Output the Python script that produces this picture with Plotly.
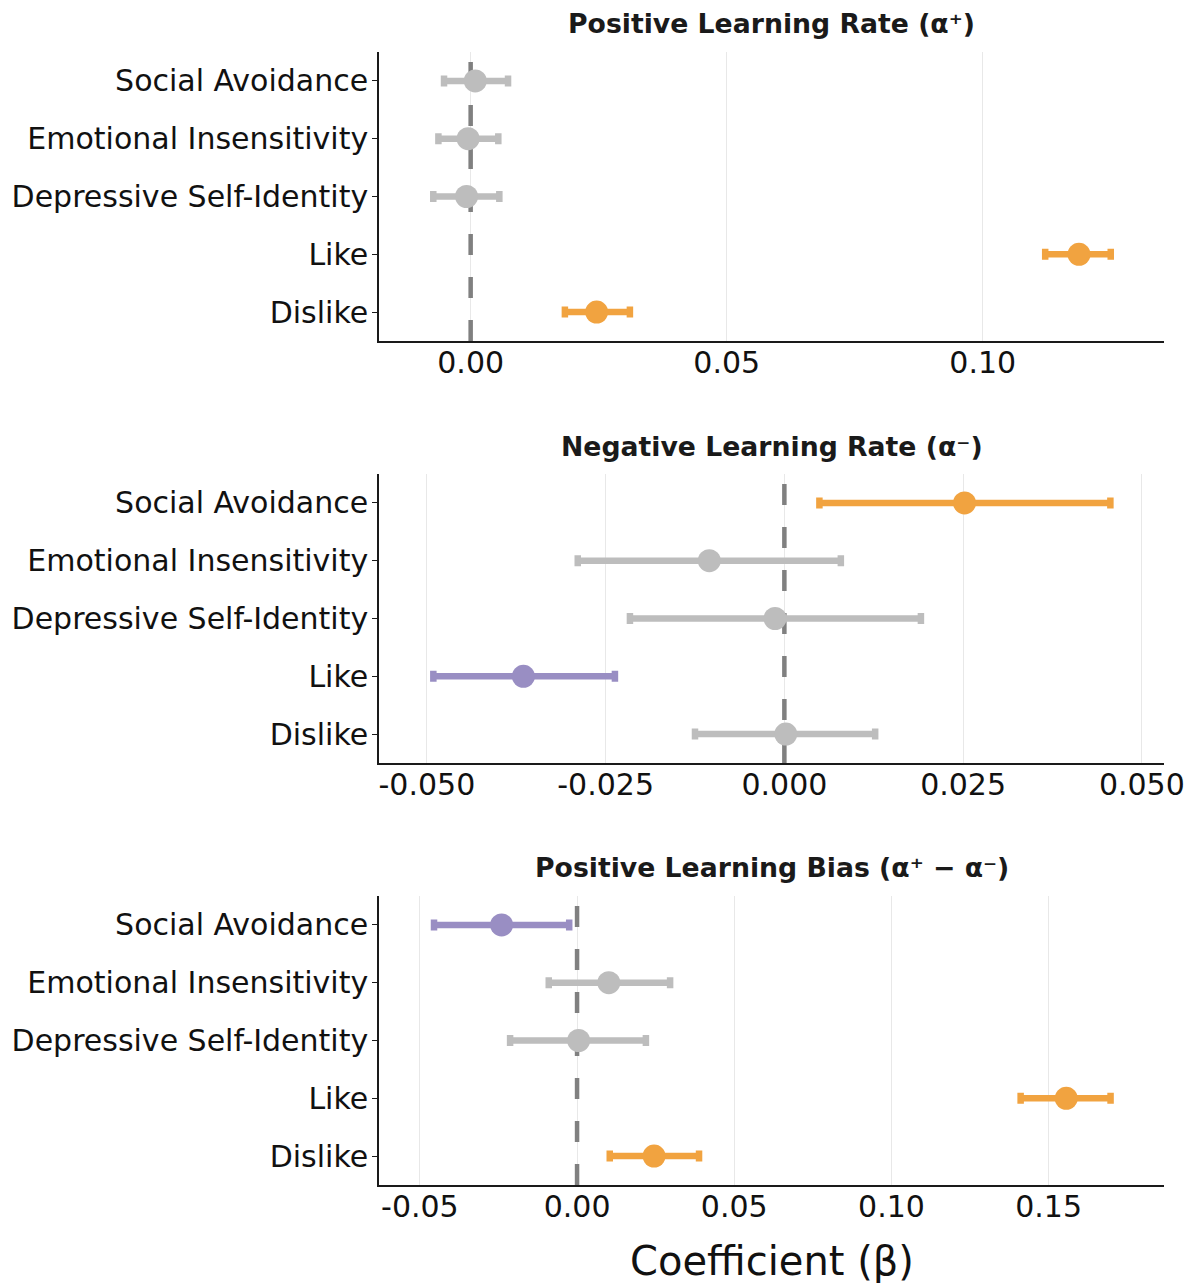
import plotly.graph_objects as go

# Predictors (top to bottom)
categories = ["Social Avoidance", "Emotional Insensitivity", "Depressive Self-Identity", "Like", "Dislike"]

# Positive learning rate (alpha+)
pos_rate_coef = [0.0009, -0.0005, -0.0008, 0.1188, 0.0246]
pos_rate_lo = [-0.0052, -0.0063, -0.0073, 0.1122, 0.0184]
pos_rate_hi = [0.0073, 0.0054, 0.0056, 0.1250, 0.0311]

# Negative learning rate (alpha-)
neg_rate_coef = [0.0252, -0.0105, -0.0013, -0.0365, 0.0002]
neg_rate_lo = [0.0049, -0.0289, -0.0216, -0.0491, -0.0125]
neg_rate_hi = [0.0456, 0.0079, 0.0191, -0.0237, 0.0127]

# Positive learning bias (alpha+ - alpha-)
bias_coef = [-0.0240, 0.0101, 0.0005, 0.1556, 0.0245]
bias_lo = [-0.0455, -0.0090, -0.0213, 0.1411, 0.0104]
bias_hi = [-0.0025, 0.0296, 0.0219, 0.1697, 0.0388]

panel_titles = [
    "Positive Learning Rate (α⁺)",
    "Negative Learning Rate (α⁻)",
    "Positive Learning Bias (α⁺ − α⁻)",
]
x_tick_values = [
    [0.00, 0.05, 0.10],
    [-0.050, -0.025, 0.000, 0.025, 0.050],
    [-0.05, 0.00, 0.05, 0.10, 0.15],
]
x_tick_labels = [
    ["0.00", "0.05", "0.10"],
    ["-0.050", "-0.025", "0.000", "0.025", "0.050"],
    ["-0.05", "0.00", "0.05", "0.10", "0.15"],
]
x_title = "Coefficient (β)"
null_effect = 0.0

panels = [
    (pos_rate_coef, pos_rate_lo, pos_rate_hi),
    (neg_rate_coef, neg_rate_lo, neg_rate_hi),
    (bias_coef, bias_lo, bias_hi),
]

ORANGE = "#f1a340"
PURPLE = "#998ec3"
GRAY = "#bdbdbd"
FONT = "DejaVu Sans"
W, H = 1195, 1283

# pixel layout of each panel
x_left_px, x_right_px = 379, 1164
panel_px = [(52, 341), (474, 763), (896, 1185)]
title_px = [24, 446, 867]
x_ranges = [[-0.0179, 0.1354], [-0.0567, 0.0531], [-0.0630, 0.1867]]

# rows: first category on top
n = len(categories)
row_pos = [n - 1 - i for i in range(n)]
y_range = [-0.5, n - 0.5]


def ci_color(lo, hi):
    if lo > null_effect:
        return ORANGE
    if hi < null_effect:
        return PURPLE
    return GRAY


fig = go.Figure()
layout = {}
annotations = []

for p, (coef, lo, hi) in enumerate(panels):
    suffix = "" if p == 0 else str(p + 1)
    xa, ya = "x" + suffix, "y" + suffix
    # dashed reference line at zero, drawn first so the points sit on top
    fig.add_trace(go.Scatter(
        x=[null_effect, null_effect], y=y_range, xaxis=xa, yaxis=ya, mode="lines",
        line=dict(color="#808080", width=4.5, dash="21px,22px"),
        showlegend=False, hoverinfo="skip",
    ))
    for yp, c, l, h in zip(row_pos, coef, lo, hi):
        col = ci_color(l, h)
        fig.add_trace(go.Scatter(
            x=[c], y=[yp], xaxis=xa, yaxis=ya, mode="markers",
            marker=dict(size=23, color=col, line=dict(width=0)),
            error_x=dict(type="data", symmetric=False, array=[h - c], arrayminus=[c - l],
                         color=col, thickness=6.5, width=5.5),
            showlegend=False, hoverinfo="skip",
        ))
    top, bot = panel_px[p]
    layout["xaxis" + suffix] = dict(
        domain=[x_left_px / W, x_right_px / W], anchor=ya, range=x_ranges[p],
        tickvals=x_tick_values[p], ticktext=x_tick_labels[p],
        showgrid=True, gridcolor="#e8e8e8", gridwidth=1, zeroline=False,
        showline=True, linecolor="#1a1a1a", linewidth=1.6,
        ticks="", ticklabelstandoff=-6, automargin=False,
        tickfont=dict(family=FONT, size=30, color="#111"),
    )
    layout["yaxis" + suffix] = dict(
        domain=[1 - bot / H, 1 - top / H], anchor=xa,
        tickvals=row_pos, ticktext=categories,
        range=y_range, showgrid=False, zeroline=False,
        showline=True, linecolor="#1a1a1a", linewidth=1.6,
        ticks="outside", ticklen=5, tickwidth=1.4, tickcolor="#1a1a1a",
        ticklabelstandoff=-2, automargin=False,
        tickfont=dict(family=FONT, size=30, color="#111"),
    )
    annotations.append(dict(
        text="<b>" + panel_titles[p] + "</b>", xref="paper", yref="paper",
        x=(x_left_px + x_right_px) / 2 / W, y=1 - title_px[p] / H,
        xanchor="center", yanchor="middle", showarrow=False,
        font=dict(family=FONT, size=26.7, color="#1a1a1a"),
    ))

annotations.append(dict(
    text=x_title, xref="paper", yref="paper",
    x=(x_left_px + x_right_px) / 2 / W, y=1 - 1261 / H,
    xanchor="center", yanchor="middle", showarrow=False,
    font=dict(family=FONT, size=40, color="#111"),
))

fig.update_layout(
    width=W, height=H, margin=dict(l=0, r=0, t=0, b=0),
    paper_bgcolor="white", plot_bgcolor="white",
    annotations=annotations, **layout,
)

fig.write_html("out.html")
